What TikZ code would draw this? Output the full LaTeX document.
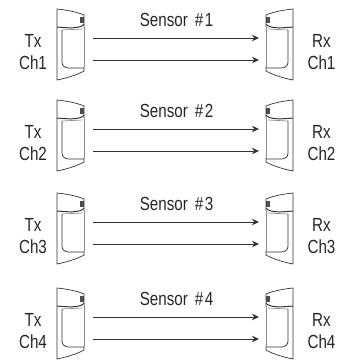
\documentclass[tikz,border=0pt]{standalone}
\usepackage{fontspec}
\setmainfont[FakeStretch=0.8]{Liberation Sans}
\usetikzlibrary{arrows.meta, positioning}

\tikzset{
    beamline/.style={-{Stealth[length=5pt,width=4.6pt]}, semithick, black!80},
    unitlabel/.style={align=center, inner sep=0pt, font=\fontsize{13.5}{15.3}\selectfont, text=black!85},
    sensorlabel/.style={inner sep=0pt, font=\fontsize{13.5}{15}\selectfont, text=black!85},
    darkline/.style={black!80, line width=0.5pt},
    paleline/.style={black!45, line width=0.5pt},
    sensorunit/.pic={
        % Housing
        \draw[darkline] (27,18) -- (27,6) .. controls (20,3) and (10,1) .. (0,0)
            -- (0,71) .. controls (10,69) and (20,66) .. (27,62) -- (27,58);
        \draw[paleline] (27,18) -- (27,58);
        % Band below the lens
        \draw[darkline, line width=0.7pt] (0,18) .. controls (10,19) and (24,20) .. (27,15);
        \draw[paleline] (5,21) -- (25,20);
        % Window
        \draw[darkline] (5,21) -- (5,53) .. controls (5,57) and (8,59) .. (12,59) -- (27,59);
        % Lens mark
        \fill[black!70] (23,8) rectangle (27,14);
    }
}

\begin{document}
\begin{tikzpicture}[x=0.025cm, y=-0.025cm]
    \useasboundingbox (0,0) rectangle (337,360);

    \foreach \n/\top in {1/9, 2/100, 3/193, 4/288} {
        % Transmitter on the left
        \pic at (57,\top) {sensorunit};
        \node[unitlabel] (tx\n) at (33,\top+43) {Tx\\Ch\n};

        % Receiver on the right
        \pic[xscale=-1] at (293,\top) {sensorunit};
        \node[unitlabel] (rx\n) at (321.5,\top+43) {Rx\\Ch\n};

        % Two beams between them
        \coordinate (txup\n) at (93,\top+29);
        \coordinate (rxup\n) at (259,\top+29);
        \coordinate (txlow\n) at (93,\top+51);
        \coordinate (rxlow\n) at (259,\top+51);
        \draw[beamline] (txup\n) -- (rxup\n);
        \draw[beamline] (txlow\n) -- (rxlow\n);

        \node[sensorlabel] (sensor\n) at (176.5,\top+11) {Sensor\kern2pt{} \#\kern1pt\n};
    }

\end{tikzpicture}
\end{document}
